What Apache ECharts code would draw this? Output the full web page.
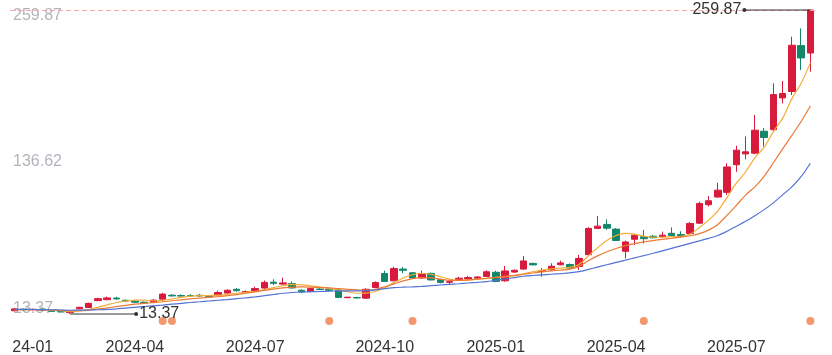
<!DOCTYPE html>
<html>
<head>
<meta charset="utf-8">
<script src="https://cdn.jsdelivr.net/npm/echarts@6/dist/echarts.min.js"></script>
<style>
html,body{margin:0;padding:0;background:#fff;}
#kline{width:832px;height:355px;}
</style>
</head>
<body>
<div id="kline"></div>
<script>
// weekly bars, dated by the last trading day of each week
var dates = ['2023-12-29','2024-01-05','2024-01-12','2024-01-19','2024-01-26','2024-02-02','2024-02-08','2024-02-23','2024-03-01','2024-03-08',
	'2024-03-15','2024-03-22','2024-03-29','2024-04-03','2024-04-12','2024-04-19','2024-04-26','2024-04-30','2024-05-10','2024-05-17',
	'2024-05-24','2024-05-31','2024-06-07','2024-06-14','2024-06-21','2024-06-28','2024-07-05','2024-07-12','2024-07-19','2024-07-26',
	'2024-08-02','2024-08-09','2024-08-16','2024-08-23','2024-08-30','2024-09-06','2024-09-13','2024-09-20','2024-09-27','2024-09-30',
	'2024-10-11','2024-10-18','2024-10-25','2024-11-01','2024-11-08','2024-11-15','2024-11-22','2024-11-29','2024-12-06','2024-12-13',
	'2024-12-20','2024-12-27','2025-01-03','2025-01-10','2025-01-17','2025-01-24','2025-01-27','2025-02-07','2025-02-14','2025-02-21',
	'2025-02-28','2025-03-07','2025-03-14','2025-03-21','2025-03-28','2025-04-03','2025-04-11','2025-04-18','2025-04-25','2025-04-30',
	'2025-05-09','2025-05-16','2025-05-23','2025-05-30','2025-06-06','2025-06-13','2025-06-20','2025-06-27','2025-07-04','2025-07-11',
	'2025-07-18','2025-07-25','2025-08-01','2025-08-08','2025-08-15','2025-08-22','2025-08-29'];

var opens = [16.0,17.3,16.8,17.4,16.3,15.6,14.5,17.6,18.6, 24.2,25.0,26.3,24.5,23.8,22.9,23.0,25.4,28.6,28.3,
	28.3,28.6,27.6,28.8,30.3,33.4,31.2,32.0,34.4,39.2, 37.6,38.0,32.6,31.6,33.6,33.4,32.8,26.6,26.7,26.2,
	34.9,46.2,40.3,49.8,46.8,42.5,46.3,41.2,39.1,41.4, 41.8,42.4,43.8,47.2,40.3,47.4,49.8,54.4,47.8,49.2,
	53.3,53.5,51.9,61.5,82.8,86.0,82.2,64.2,74.0,76.0, 76.4,76.2,78.8,77.8,78.6,87.0,102.0,108.2,112.0,134.4,
	143.2,143.8,161.6,162.8,188.6,193.8,231.0,225.0];
var closes = [17.5,16.8,17.2,16.5,15.5,15.0,15.0,18.8,22.0, 25.8,26.4,25.6,24.0,22.9,22.3,24.6,29.5,28.0,27.9,
	28.1,28.0,27.3,30.8,32.6,32.2,31.6,34.0,39.0,38.2, 38.6,34.5,31.3,34.0,33.2,32.7,26.8,27.0,26.4,33.4,
	38.9,39.8,50.2,48.8,42.5,46.2,41.0,39.0,39.6,42.4, 42.9,43.4,47.6,39.8,48.3,48.8,56.4,53.2,48.5,52.1,
	54.8,50.6,58.4,82.7,84.6,83.0,73.0,71.8,77.3,74.4, 75.2,77.3,77.0,76.4,86.8,103.0,105.2,113.8,132.6,146.2,
	144.9,162.4,156.5,191.3,192.2,231.3,221.0,259.87];
var lows = [15.6,16.4,16.4,16.2,15.2,14.7,13.37,17.2,18.3, 23.8,24.5,24.9,23.0,22.4,21.8,22.5,23.5,27.6,27.5,
	27.4,27.4,26.8,28.3,29.8,31.6,30.8,31.5,33.8,37.0, 37.2,34.0,30.2,31.0,32.8,31.5,26.3,26.2,25.9,25.6,
	34.2,39.2,39.8,46.5,42.0,41.9,40.5,38.2,37.4,40.9, 41.2,41.8,43.4,39.2,39.6,46.8,49.3,52.8,43.6,48.5,
	52.8,49.8,49.0,60.8,82.2,81.6,72.5,58.5,69.3,70.5, 74.6,75.0,76.2,75.4,78.0,86.4,100.6,107.8,109.8,128.7,
	138.8,143.0,149.2,161.6,184.2,190.9,211.2,209.8];
var highs = [18.2,17.8,17.7,17.8,16.6,15.9,15.4,19.2,22.5, 26.5,27.5,27.3,25.0,24.7,23.5,25.5,30.6,29.5,29.3,
	29.5,29.5,28.0,32.3,33.5,34.5,32.5,35.5,40.5,41.5, 42.8,39.8,33.5,34.5,34.3,33.9,34.0,27.3,27.3,34.3,
	39.8,48.5,51.7,51.5,47.5,48.5,47.0,42.0,41.0,43.5, 44.2,44.0,48.8,48.5,52.3,49.5,60.4,55.0,50.6,54.5,
	56.5,54.3,61.2,83.8,92.8,90.1,83.0,73.0,78.0,81.5, 77.5,80.2,83.6,80.5,88.0,104.4,109.0,119.8,135.6,149.8,
	157.3,174.7,164.0,200.4,202.3,238.2,245.0,259.87];

// moving average lines
var ma5 = [16.8,16.9,17.0,16.8,16.4,16.0,15.3,15.9,17.0, 18.8,20.8,22.7,23.8,24.6,24.6,24.0,24.5,25.6,26.8,
	27.8,28.3,28.2,28.6,29.4,30.2,31.0,31.8,33.2,34.8, 36.3,37.4,37.0,36.2,35.2,34.0,32.8,31.4,30.2,30.3,
	31.6,34.6,38.8,42.6,45.2,46.2,45.6,43.6,41.6,40.6, 40.8,41.5,42.3,43.0,43.6,44.4,46.0,47.6,49.0,50.0,
	50.6,51.2,53.5,60.5,67.0,73.0,77.0,78.8,78.2,76.5, 75.6,75.6,76.0,76.4,78.2,83.5,89.5,97.0,108.0,119.5,
	128.5,140.0,148.5,161.3,172.0,188.0,200.5,217.0];
var ma10 = [16.9,16.9,16.8,16.7,16.5,16.3,15.9,16.0,16.5, 17.3,18.3,19.4,20.4,21.3,22.0,22.6,23.3,24.1,24.9,
	25.6,26.3,26.9,27.5,28.2,29.1,30.2,31.3,32.5,33.6, 34.5,35.1,35.3,35.2,34.9,34.5,34.0,33.4,32.9,32.7,
	33.4,35.5,37.8,40.2,42.0,42.9,42.7,41.6,40.6,40.6, 41.0,41.6,42.3,43.1,43.9,44.7,45.6,46.6,47.5,48.3,
	49.0,49.8,52.0,56.5,60.5,63.8,66.5,68.8,70.5,71.8, 72.9,73.9,74.8,75.7,76.8,78.6,81.4,86.0,93.5,101.5,
	109.8,116.5,125.0,136.0,147.2,158.2,169.5,182.0];
var ma20 = [17.2,17.1,17.0,16.9,16.8,16.6,16.4,16.5,16.6, 16.8,17.1,17.6,18.2,18.8,19.4,20.0,20.6,21.3,22.0,
	22.7,23.3,23.9,24.5,25.1,25.8,26.5,27.3,28.2,29.2, 30.2,30.8,31.2,31.4,31.6,31.9,32.1,32.2,32.2,32.4,
	33.0,34.0,34.7,35.1,35.4,35.8,36.3,36.9,37.4,37.9, 38.5,39.0,39.6,40.7,41.8,42.9,44.0,44.6,45.1,45.6,
	46.1,46.7,47.7,49.5,51.4,53.3,55.2,57.0,58.9,60.7, 62.6,64.6,66.6,68.6,70.6,72.6,74.7,77.0,80.5,84.5,
	88.5,93.0,98.0,103.5,110.0,116.5,124.7,135.6];

// weeks that carry an event dot under the chart
var eventDates = ['2024-04-26','2024-04-30','2024-08-30','2024-11-01','2025-04-25','2025-08-29'];

var yTicks = [13.37, 136.62, 259.87];
var labelMonths = [1, 4, 7, 10];

var FONT = 'Liberation Sans, Arial, sans-serif';
var UP = '#d81a3c', DOWN = '#14876a';

function month_of(d){
	return parseInt(d.substr(5, 2), 10);
}

// first week of jan/apr/jul/oct gets a label
function show_label(idx){
	if(idx == 0) return false;
	var m = month_of(dates[idx]);
	return m != month_of(dates[idx-1]) && labelMonths.indexOf(m) >= 0;
}

function draw_kline(){
	var myChart = echarts.init(document.getElementById('kline'));
	var candles = [];
	for(var i=0;i<dates.length;i++){
		candles.push([opens[i], closes[i], lows[i], highs[i]]);
	}
	var events = [];
	for(var k=0;k<eventDates.length;k++){
		events.push([eventDates[k], 0.5]);
	}
	var grids = {left: 10, right: 17};

	var option = {
		animation: false,
		grid: [
			{left: grids.left, right: grids.right, top: 10, bottom: 41, outerBoundsMode: 'none'},
			{left: grids.left, right: grids.right, top: 316, height: 10, outerBoundsMode: 'none'}
		],
		xAxis: [
			{
				type: 'category', gridIndex: 0, data: dates, boundaryGap: true,
				axisLine: {show: false}, axisTick: {show: false}, splitLine: {show: false},
				axisLabel: {
					interval: function(idx){ return show_label(idx); },
					color: '#333', fontSize: 16, fontFamily: FONT, margin: 26,
					formatter: function(v){ return v.substr(0, 7); }
				}
			},
			{type: 'category', gridIndex: 1, data: dates, boundaryGap: true, show: false}
		],
		yAxis: [
			{
				type: 'value', gridIndex: 0, min: yTicks[0], max: yTicks[yTicks.length-1],
				axisLine: {show: false, onZero: false}, axisTick: {show: false}, splitLine: {show: false},
				axisLabel: {
					inside: true, customValues: yTicks, margin: 3,
					color: '#b3b3bb', fontSize: 16, fontFamily: FONT, lineHeight: 11,
					verticalAlignMinLabel: 'bottom', verticalAlignMaxLabel: 'top',
					formatter: function(v){ return v.toFixed(2); }
				}
			},
			{type: 'value', gridIndex: 1, min: 0, max: 1, show: false}
		],
		series: [
			{
				name: 'K', type: 'candlestick', xAxisIndex: 0, yAxisIndex: 0,
				barWidth: 7, z: 2,
				itemStyle: {color: UP, color0: DOWN, borderColor: UP, borderColor0: DOWN, borderWidth: 1},
				data: candles,
				markLine: {
					silent: true, symbol: 'none', label: {show: false},
					lineStyle: {color: '#f2a9a9', type: [5, 3], width: 1},
					data: [{yAxis: yTicks[yTicks.length-1]}]
				}
			},
			{name: 'MA5', type: 'line', data: ma5, showSymbol: false, smooth: 0.3, z: 3,
				lineStyle: {color: '#f3ad38', width: 1.2}},
			{name: 'MA10', type: 'line', data: ma10, showSymbol: false, smooth: 0.3, z: 3,
				lineStyle: {color: '#ec7a36', width: 1.2}},
			{name: 'MA20', type: 'line', data: ma20, showSymbol: false, smooth: 0.3, z: 3,
				lineStyle: {color: '#5173d4', width: 1.2}},
			{
				name: 'event', type: 'scatter', xAxisIndex: 1, yAxisIndex: 1,
				symbolSize: 8, itemStyle: {color: '#f07d48'},
				data: events
			}
		]
	};
	myChart.setOption(option);

	// max / min tags
	var maxI = 0, minI = 0;
	for(var j=1;j<highs.length;j++){
		if(highs[j] > highs[maxI]) maxI = j;
		if(lows[j] < lows[minI]) minI = j;
	}
	var pMax = myChart.convertToPixel({xAxisIndex: 0, yAxisIndex: 0}, [maxI, highs[maxI]]);
	var pMin = myChart.convertToPixel({xAxisIndex: 0, yAxisIndex: 0}, [minI, lows[minI]]);
	var len = 66;
	myChart.setOption({
		graphic: [
			{type: 'line', z: 10, shape: {x1: pMax[0], y1: pMax[1], x2: pMax[0]-len, y2: pMax[1]}, style: {stroke: '#333', lineWidth: 1}},
			{type: 'circle', z: 10, shape: {cx: pMax[0]-len, cy: pMax[1], r: 2}, style: {fill: '#333'}},
			{type: 'text', z: 10, x: pMax[0]-len-3, y: pMax[1], style: {text: highs[maxI].toFixed(2), fill: '#333', font: '16px ' + FONT, align: 'right', verticalAlign: 'middle'}},
			{type: 'line', z: 10, shape: {x1: pMin[0], y1: pMin[1], x2: pMin[0]+len, y2: pMin[1]}, style: {stroke: '#333', lineWidth: 1}},
			{type: 'circle', z: 10, shape: {cx: pMin[0]+len, cy: pMin[1], r: 2}, style: {fill: '#333'}},
			{type: 'text', z: 10, x: pMin[0]+len+3, y: pMin[1], style: {text: lows[minI].toFixed(2), fill: '#333', font: '16px ' + FONT, align: 'left', verticalAlign: 'middle'}},
			// the page edge hides the start of the first date label
			{type: 'rect', z: 20, shape: {x: 0, y: 332, width: 12, height: 23}, style: {fill: '#fff'}}
		]
	});
}

draw_kline();
</script>
</body>
</html>
